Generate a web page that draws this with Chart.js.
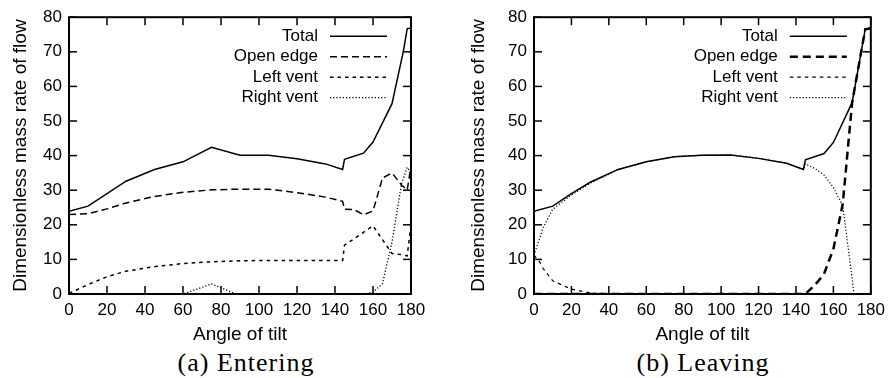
<!DOCTYPE html>
<html>
<head>
<meta charset="utf-8">
<script src="https://cdn.jsdelivr.net/npm/chart.js@4/dist/chart.umd.min.js"></script>
<style>
  body { margin: 0; background: #fff; width: 891px; height: 378px; position: relative; overflow: hidden; }
  canvas { position: absolute; top: 0; }
  .cap { position: absolute; top: 348px; width: 300px; text-align: center;
         font-family: "Liberation Serif", serif; font-size: 26px; letter-spacing: 1px; color: #000; }
</style>
</head>
<body>
<canvas id="entering" width="445" height="348" style="left:0"></canvas>
<canvas id="leaving" width="446" height="348" style="left:445px"></canvas>
<div class="cap" style="left:96px">(a) Entering</div>
<div class="cap" style="left:553px">(b) Leaving</div>
<script>
// (a) Entering - angle of tilt vs flow (null = no vertex for that series)
const entAngles = [0, 10, 20, 30, 45, 60, 75, 88, 90, 105, 120, 135, 144, 145, 150, 155, 160, 165, 170, 175, 176, 178, 180];
const entTotal  = [23.9, 25.4, null, 32.6, 36.0, 38.2, 42.4, null, 40.1, 40.1, 39.1, 37.6, 36.0, 38.9, null, 40.7, 43.9, null, 55.0, null, 70.2, 76.7, 76.8];
const entOpen   = [23.0, 23.2, 24.6, 26.3, 28.2, 29.4, 30.1, null, 30.3, 30.3, 29.3, 28.0, 26.8, 24.5, 24.4, 22.9, 24.0, 33.5, 35.0, 31.5, null, 30.0, 37.0];
const entLeft   = [0.2, 2.7, 5.0, 6.6, 7.9, 8.8, 9.3, null, 9.6, 9.7, 9.7, 9.7, 9.7, 14.1, null, null, 19.7, null, 11.7, 11.4, null, 11.0, 20.0];
const entRight  = [0, 0, 0, 0, 0, 0, 2.9, 0, 0, 0, 0, 0, 0, 0, 0, 0, 0.5, 3.0, 15.0, 31.8, null, 36.6, 35.0];

// (b) Leaving
const levAngles = [0, 3, 5, 10, 20, 30, 45, 60, 75, 90, 105, 120, 135, 144, 145, 150, 155, 160, 165, 170, 171, 177, 180];
const levTotal  = [23.9, null, null, 25.4, 29.0, 32.3, 36.0, 38.2, 39.7, 40.1, 40.2, 39.2, 37.8, 36.0, 38.8, null, 40.6, 43.8, null, 55.3, null, 76.5, 76.8];
const levOpen   = [0, null, null, 0, 0, 0, 0, 0, 0, 0, 0, 0, 0, 0, 0, 2.5, 5.8, 13.0, 26.0, 55.3, null, 76.5, 76.8];
const levLeft   = [11.2, 9.3, 7.3, 3.8, 1.4, 0.3, 0, 0, 0, 0, 0, 0, 0, 0, 0, 0, 0, 0, 0, 0, 0, 0, 0];
const levRight  = [11.2, null, 19.4, 24.5, 28.6, 32.0, 36.0, 38.2, 39.7, 40.1, 40.2, 39.2, 37.8, 36.0, 37.6, 36.3, 34.4, 30.8, 25.5, 4.5, 0, null, null];

const seriesNames = ["Total", "Open edge", "Left vent", "Right vent"];
const xTicks = { min: 0, max: 180, step: 20 };
const yTicks = { min: 0, max: 80, step: 10 };

const sansFont = "'Liberation Sans', Arial, sans-serif";

function toPoints(angles, vals) {
    return angles.map((a, i) => ({ x: a, y: vals[i] })).filter(p => p.y !== null);
}

// gnuplot-like frame: full box, inward ticks on all sides, legend top right
const framePlugin = {
    id: "frame",
    afterDatasetsDraw(chart) {
        const { ctx, chartArea: a, scales: { x, y } } = chart;
        ctx.save();
        ctx.strokeStyle = "#000";
        ctx.lineWidth = 1.5;
        ctx.setLineDash([]);
        const seg = (x1, y1, x2, y2) => { ctx.beginPath(); ctx.moveTo(x1, y1); ctx.lineTo(x2, y2); ctx.stroke(); };
        x.ticks.forEach(t => {
            const px = x.getPixelForValue(t.value);
            seg(px, a.bottom, px, a.bottom - 8);
            seg(px, a.top, px, a.top + 8);
        });
        y.ticks.forEach(t => {
            const py = y.getPixelForValue(t.value);
            seg(a.left, py, a.left + 8, py);
            seg(a.right, py, a.right - 8, py);
        });
        ctx.lineWidth = 2;
        ctx.strokeRect(a.left, a.top, a.right - a.left, a.bottom - a.top);

        // legend
        ctx.font = "17px " + sansFont;
        ctx.fillStyle = "#000";
        ctx.textAlign = "right";
        ctx.textBaseline = "middle";
        chart.data.datasets.forEach((ds, i) => {
            const ly = a.top + 19 + i * 20.5;
            ctx.fillText(ds.label, a.right - 93, ly);
            ctx.lineWidth = ds.borderWidth;
            ctx.setLineDash(ds.borderDash || []);
            seg(a.right - 81, ly, a.right - 24, ly);
        });
        ctx.restore();
    }
};

function makeChart(id, angles, series, styles, yAxisWidth, rightPad, yTitlePad) {
    const datasets = series.map((vals, i) => ({
        label: seriesNames[i],
        data: toPoints(angles, vals),
        borderColor: "#000",
        borderWidth: styles[i].width,
        borderDash: styles[i].dash,
        pointRadius: 0,
        fill: false,
        tension: 0
    }));
    return new Chart(document.getElementById(id), {
        type: "line",
        data: { datasets },
        plugins: [framePlugin],
        options: {
            responsive: false,
            animation: false,
            layout: { padding: { top: 16, right: rightPad, left: 0, bottom: 0 } },
            plugins: { legend: { display: false }, tooltip: { enabled: false } },
            scales: {
                x: {
                    type: "linear",
                    min: xTicks.min, max: xTicks.max,
                    ticks: { stepSize: xTicks.step, padding: 6, maxRotation: 0, color: "#000", font: { family: sansFont, size: 17 } },
                    grid: { display: false, drawTicks: false },
                    border: { display: false },
                    title: { display: true, text: "Angle of tilt", color: "#000", padding: { top: 0, bottom: 2 }, font: { family: sansFont, size: 19 } },
                    afterFit: s => { s.height = 54; }
                },
                y: {
                    min: yTicks.min, max: yTicks.max,
                    ticks: { stepSize: yTicks.step, padding: 7, color: "#000", font: { family: sansFont, size: 17 } },
                    grid: { display: false, drawTicks: false },
                    border: { display: false },
                    title: { display: true, text: "Dimensionless mass rate of flow", color: "#000", padding: { top: yTitlePad, bottom: 0 }, font: { family: sansFont, size: 19 } },
                    afterFit: s => { s.width = yAxisWidth; }
                }
            }
        }
    });
}

makeChart("entering", entAngles, [entTotal, entOpen, entLeft, entRight], [
    { width: 1.5, dash: [] },
    { width: 1.5, dash: [7, 4] },
    { width: 1.5, dash: [3.5, 4] },
    { width: 1.3, dash: [1.2, 2] }
], 69, 34, 9);

makeChart("leaving", levAngles, [levTotal, levOpen, levLeft, levRight], [
    { width: 1.5, dash: [] },
    { width: 2.5, dash: [8, 5] },
    { width: 1.2, dash: [3.5, 4] },
    { width: 1.2, dash: [1.2, 2] }
], 89, 15, 22);
</script>
</body>
</html>
